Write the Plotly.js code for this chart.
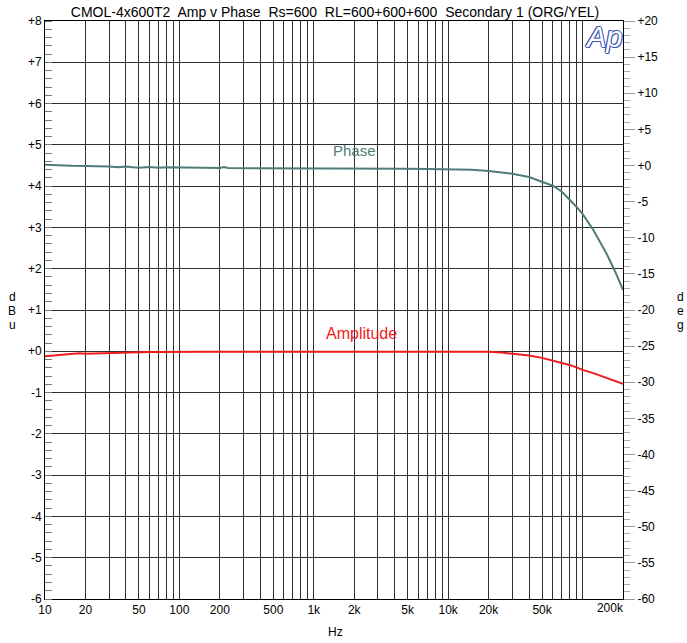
<!DOCTYPE html>
<html>
<head>
<meta charset="utf-8">
<script src="https://cdn.plot.ly/plotly-3.0.1.min.js"></script>
<style>html,body{margin:0;padding:0;background:#fff;}#chart{width:687px;height:643px;}</style>
</head>
<body>
<div id="chart"></div>
<script>
// ---- data ----
const freqHz = [10, 12, 14, 16, 18, 20, 25, 30, 35, 40, 45, 50, 60, 70, 80, 100, 150, 200, 215, 230, 300, 500, 700, 1000, 1500, 2000, 3000, 5000, 7000, 10000, 15000, 20000, 25000, 30000, 40000, 50000, 60000, 70000, 80000, 90000, 100000, 120000, 150000, 175000, 200000];
const amplitudeDbu = [-0.12, -0.10, -0.08, -0.07, -0.05, -0.06, -0.05, -0.04, -0.03, -0.04, -0.02, -0.03, -0.02, -0.02, -0.015, -0.015, -0.01, -0.01, -0.01, -0.01, 0, 0, 0, 0, 0, 0, 0, 0, 0, 0, -0.005, -0.01, -0.03, -0.05, -0.10, -0.16, -0.22, -0.28, -0.33, -0.39, -0.45, -0.53, -0.64, -0.72, -0.79];
const phaseDeg = [0.1, 0.1, 0.0, -0.05, -0.05, -0.1, -0.1, -0.15, -0.25, -0.15, -0.25, -0.3, -0.2, -0.3, -0.25, -0.3, -0.3, -0.35, -0.2, -0.35, -0.35, -0.35, -0.35, -0.4, -0.4, -0.4, -0.45, -0.45, -0.5, -0.55, -0.6, -0.75, -0.95, -1.15, -1.6, -2.2, -2.8, -3.6, -4.7, -5.7, -6.7, -8.9, -12.1, -14.7, -17.2];

const xGridVals = [];
[10, 100, 1000, 10000, 100000].forEach(d => { for (let m = 1; m <= 9; m++) { const v = m * d; if (v <= 200000) xGridVals.push(v); } });
xGridVals.push(200000);
const xLabelMap = {10:'10', 20:'20', 50:'50', 100:'100', 200:'200', 500:'500', 1000:'1k', 2000:'2k', 5000:'5k', 10000:'10k', 20000:'20k', 50000:'50k'};
const xTickText = xGridVals.map(v => xLabelMap[v] || '');
const xEndLabelVal = [199900];
const xEndLabelText = ['200k'];

const dbuTickVals = [8, 7, 6, 5, 4, 3, 2, 1, 0, -1, -2, -3, -4, -5, -6];
const dbuTickText = ['+8', '+7', '+6', '+5', '+4', '+3', '+2', '+1', '+0', '-1', '-2', '-3', '-4', '-5', '-6'];
const degTickVals = [20, 15, 10, 5, 0, -5, -10, -15, -20, -25, -30, -35, -40, -45, -50, -55, -60];
const degTickText = ['+20', '+15', '+10', '+5', '+0', '-5', '-10', '-15', '-20', '-25', '-30', '-35', '-40', '-45', '-50', '-55', '-60'];

const titleText = 'CMOL-4x600T2\u00a0 Amp v Phase\u00a0 Rs=600\u00a0 RL=600+600+600\u00a0 Secondary 1 (ORG/YEL)';

// ---- layout helpers (pixel -> paper) ----
const L = 45, R = 64, T = 21, B = 44, W = 687, H = 643;
const pw = W - L - R, ph = H - T - B;
const px = x => (x - L) / pw;
const py = y => 1 - (y - T) / ph;

const FONT = 'Liberation Sans, Arial, sans-serif';
const gridCol = '#2e2e2e';
const phaseCol = '#4f7c79';
const ampCol = '#ee1c1c';

const traces = [
  {x: freqHz, y: amplitudeDbu, type: 'scatter', mode: 'lines', line: {color: ampCol, width: 2}, xaxis: 'x', yaxis: 'y', hoverinfo: 'skip'},
  {x: freqHz, y: phaseDeg, type: 'scatter', mode: 'lines', line: {color: phaseCol, width: 2}, xaxis: 'x', yaxis: 'y2', hoverinfo: 'skip'},
  {x: xEndLabelVal, y: [0], type: 'scatter', mode: 'markers', marker: {opacity: 0, size: 1}, xaxis: 'x2', yaxis: 'y', hoverinfo: 'skip'}
];

function letterAnn(t, x, y) {
  return {text: t, xref: 'paper', yref: 'paper', x: px(x), y: py(y), showarrow: false, xanchor: 'center', yanchor: 'middle', font: {family: FONT, size: 12, color: '#000'}};
}

const layout = {
  width: W, height: H,
  margin: {l: L, r: R, t: T, b: B, pad: 0},
  paper_bgcolor: '#fff', plot_bgcolor: '#fff',
  showlegend: false,
  font: {family: FONT, size: 12, color: '#000'},
  title: {text: titleText, x: 335 / W, xref: 'container', xanchor: 'center', y: 1 - 12 / H, yref: 'container', yanchor: 'middle', font: {family: FONT, size: 14, color: '#000'}},
  xaxis: {
    type: 'log', range: [1, Math.log10(200000)],
    tickmode: 'array', tickvals: xGridVals, ticktext: xTickText,
    ticks: '', showgrid: true, gridcolor: gridCol, gridwidth: 1,
    showline: true, linecolor: '#000', linewidth: 1, mirror: true,
    tickfont: {family: FONT, size: 12, color: '#000'}, zeroline: false, fixedrange: true
  },
  xaxis2: {
    type: 'log', range: [1, Math.log10(200000)], overlaying: 'x', anchor: 'y', side: 'bottom',
    tickmode: 'array', tickvals: xEndLabelVal, ticktext: xEndLabelText, ticklabelposition: 'outside left',
    ticks: '', showgrid: false, showline: false, zeroline: false,
    tickfont: {family: FONT, size: 12, color: '#000'}, fixedrange: true
  },
  yaxis: {
    range: [-6, 8], tickmode: 'array', tickvals: dbuTickVals, ticktext: dbuTickText,
    ticks: '', showgrid: true, gridcolor: gridCol, gridwidth: 1, zeroline: false,
    showline: true, linecolor: '#000', linewidth: 1, mirror: false,
    minor: {dtick: 0.2, ticks: 'inside', ticklen: 7, tickcolor: '#777', tickwidth: 1, showgrid: false},
    tickfont: {family: FONT, size: 12, color: '#000'}, fixedrange: true
  },
  yaxis2: {
    range: [-60, 20], overlaying: 'y', side: 'right', anchor: 'x',
    tickmode: 'array', tickvals: degTickVals, ticktext: degTickText,
    ticks: 'outside', ticklen: 11, tickcolor: '#999', tickwidth: 1,
    minor: {dtick: 1, ticks: 'outside', ticklen: 6, tickcolor: '#aaa', tickwidth: 1, showgrid: false},
    showgrid: false, zeroline: false, showline: true, linecolor: '#000', linewidth: 1,
    tickfont: {family: FONT, size: 12, color: '#000'}, fixedrange: true
  },
  annotations: [
    letterAnn('d', 12, 297), letterAnn('B', 12, 311), letterAnn('u', 12, 325),
    letterAnn('d', 680, 297), letterAnn('e', 680, 311), letterAnn('g', 680, 325),
    letterAnn('Hz', 335, 632),
    {text: 'Phase', xref: 'paper', yref: 'paper', x: px(354), y: py(150), showarrow: false, xanchor: 'center', yanchor: 'middle', font: {family: FONT, size: 15, color: phaseCol}},
    {text: 'Amplitude', xref: 'paper', yref: 'paper', x: px(361), y: py(333), showarrow: false, xanchor: 'center', yanchor: 'middle', font: {family: FONT, size: 16, color: ampCol}},
    {text: '<i>Ap</i>', xref: 'paper', yref: 'paper', x: px(603), y: py(37), showarrow: false, xanchor: 'center', yanchor: 'middle',
     font: {family: FONT, size: 29, color: '#ffffff', shadow: '1px 0 0 #3b55b5, -1px 0 0 #3b55b5, 0 1px 0 #3b55b5, 0 -1px 0 #3b55b5, 1px 1px 0 #3b55b5, -1px -1px 0 #3b55b5'}}
  ]
};

Plotly.newPlot('chart', traces, layout, {displayModeBar: false, staticPlot: true});
</script>
</body>
</html>
